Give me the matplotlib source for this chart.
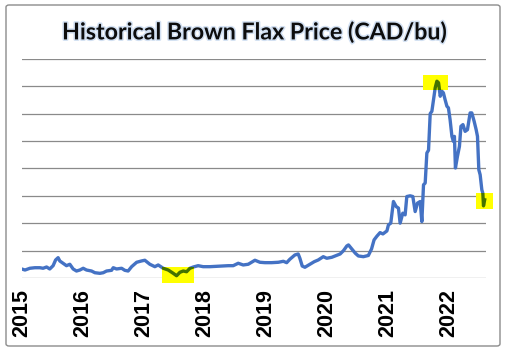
import matplotlib
matplotlib.use("Agg")
import matplotlib.pyplot as plt
import matplotlib.patheffects as pe
from matplotlib.patches import Rectangle, FancyBboxPatch
import pandas as pd

# Brown flax price, CAD/bu
dates = [
    "2015-01-01", "2015-01-21", "2015-02-19", "2015-03-21", "2015-04-20", "2015-05-09",
    "2015-05-30", "2015-06-18", "2015-07-08", "2015-07-23", "2015-08-07", "2015-08-17",
    "2015-09-06", "2015-09-26", "2015-10-16", "2015-11-05", "2015-11-25", "2015-12-15",
    "2016-01-04", "2016-01-24", "2016-02-23", "2016-03-14", "2016-04-13", "2016-05-03",
    "2016-05-23", "2016-06-22", "2016-07-02", "2016-07-22", "2016-08-21", "2016-09-09",
    "2016-09-29", "2016-10-20", "2016-11-19", "2016-12-18", "2017-01-07", "2017-02-06",
    "2017-03-08", "2017-03-28", "2017-04-27", "2017-05-27", "2017-06-26", "2017-07-16",
    "2017-08-05", "2017-08-25", "2017-09-14", "2017-10-04", "2017-10-24", "2017-11-22",
    "2017-12-22", "2018-02-01", "2018-03-13", "2018-04-21", "2018-05-21", "2018-06-20",
    "2018-07-20", "2018-08-19", "2018-09-18", "2018-10-28", "2018-11-27", "2018-12-27",
    "2019-02-05", "2019-03-17", "2019-04-16", "2019-05-06", "2019-05-25", "2019-06-24",
    "2019-07-14", "2019-07-24", "2019-08-07", "2019-08-23", "2019-09-22", "2019-10-18",
    "2019-11-11", "2019-12-11", "2020-01-01", "2020-01-31", "2020-02-20", "2020-03-21",
    "2020-04-10", "2020-04-30", "2020-05-10", "2020-05-26", "2020-06-20", "2020-07-08",
    "2020-08-07", "2020-09-06", "2020-09-25", "2020-10-10", "2020-10-27", "2020-11-15",
    "2020-12-02", "2020-12-26", "2021-01-04", "2021-01-18", "2021-02-03", "2021-02-19",
    "2021-03-05", "2021-03-15", "2021-03-31", "2021-04-14", "2021-04-24", "2021-05-14",
    "2021-05-30", "2021-06-13", "2021-06-27", "2021-07-13", "2021-07-23", "2021-08-02",
    "2021-08-12", "2021-08-22", "2021-09-01", "2021-09-11", "2021-09-21", "2021-10-01",
    "2021-10-11", "2021-10-21", "2021-10-31", "2021-11-10", "2021-11-20", "2021-11-29",
    "2021-12-09", "2021-12-20", "2021-12-29", "2022-01-08", "2022-01-19", "2022-01-28",
    "2022-02-03", "2022-02-09", "2022-02-21", "2022-03-05", "2022-03-14", "2022-03-26",
    "2022-04-08", "2022-04-22", "2022-05-08", "2022-05-18", "2022-06-01", "2022-06-13",
    "2022-06-21", "2022-06-29", "2022-07-07", "2022-07-17", "2022-07-23", "2022-07-27",
    "2022-08-03",
]
prices = [
    11.70, 11.51, 11.83, 11.93, 11.93, 11.83,
    12.06, 11.70, 12.30, 13.34, 13.76, 13.16,
    12.74, 12.30, 12.56, 11.70, 11.33, 11.51,
    11.83, 11.51, 11.33, 11.02, 10.91, 11.02,
    11.33, 11.46, 11.93, 11.70, 11.83, 11.46,
    11.33, 12.12, 12.92, 13.16, 13.29, 12.56,
    12.12, 12.43, 11.83, 11.51, 10.91, 10.47,
    11.10, 11.33, 11.20, 11.83, 12.06, 12.30,
    12.12, 12.12, 12.19, 12.24, 12.30, 12.30,
    12.74, 12.43, 12.56, 13.29, 12.92, 12.85,
    12.85, 12.92, 13.10, 12.85, 13.47, 14.25,
    14.43, 13.65, 12.24, 12.01, 12.56, 13.03,
    13.34, 13.94, 13.65, 13.83, 14.07, 14.43,
    15.04, 15.89, 16.08, 15.48, 14.56, 14.07,
    13.94, 14.16, 15.35, 16.99, 17.67, 18.32,
    18.08, 18.63, 19.73, 20.04, 23.98, 23.07,
    22.78, 20.04, 21.86, 21.55, 24.89, 25.02,
    24.89, 22.15, 23.69, 23.98, 20.33, 27.03,
    27.34, 32.81, 33.32, 39.98, 40.40, 42.54,
    44.68, 45.88, 45.59, 43.14, 44.05, 43.76,
    42.54, 41.32, 41.03, 38.89, 35.84, 34.93,
    35.84, 30.08, 32.19, 34.02, 37.67, 37.98,
    36.75, 37.06, 40.11, 40.11, 38.58, 37.06,
    35.84, 29.76, 28.85, 26.11, 25.51, 23.19,
    24.29,
]
years = list(range(2015, 2023))

# highlighted spots: (start, end, low price, high price)
hl_start = ["2017-04-19", "2021-07-30", "2022-06-13"]
hl_end = ["2017-10-28", "2021-12-27", "2022-09-22"]
hl_low = [9.1, 44.2, 22.65]
hl_high = [12.1, 47.1, 25.6]

blue = "#4472C4"
green = "#447200"

dt = pd.to_datetime(dates)

fig = plt.figure(figsize=(5.08, 3.55), dpi=100)
ax = fig.add_axes([0.0427, 0.216, 0.914, 0.619])

ax.plot(dt, prices, color=blue, linewidth=2.4, zorder=3, solid_joinstyle="round")

for s, e, lo, hi in zip(hl_start, hl_end, hl_low, hl_high):
    x0 = matplotlib.dates.date2num(pd.Timestamp(s))
    x1 = matplotlib.dates.date2num(pd.Timestamp(e))
    rect = Rectangle((x0, lo), x1 - x0, hi - lo, facecolor="#FFFF00",
                     edgecolor="none", zorder=4, clip_on=False)
    ax.add_patch(rect)
    seg, = ax.plot(dt, prices, color=green, linewidth=2.4, zorder=5,
                   solid_joinstyle="round")
    seg.set_clip_path(rect)

ax.set_ylim(10, 50)
ax.set_yticks(range(10, 51, 5))
ax.set_xlim(pd.Timestamp("2015-01-01"), pd.Timestamp("2022-08-11"))
ax.set_xticks(pd.to_datetime([f"{y}-01-01" for y in years]))
ax.set_xticklabels([str(y) for y in years], rotation=90, fontsize=15.5,
                   family="Liberation Sans", fontweight="bold")
ax.tick_params(axis="x", length=0, pad=8)
ax.tick_params(axis="y", length=0, labelleft=False)
ax.grid(axis="y", color="#8a8a8a", linewidth=0.9)
ax.set_axisbelow(True)
for sp in ax.spines.values():
    sp.set_visible(False)

fig.text(0.5, 0.889, "Historical Brown Flax Price (CAD/bu)", ha="center", va="baseline",
         fontsize=16.7, fontweight="bold", family="Lato", color="#0d0d0d",
         path_effects=[pe.withStroke(linewidth=2.2, foreground="#d2e0f2")])

border = FancyBboxPatch((6 / 508, 9 / 355), 494 / 508, 341 / 355,
                        boxstyle="round,pad=0,rounding_size=0.006",
                        transform=fig.transFigure, facecolor="none",
                        edgecolor="#8c8c8c", linewidth=1.0)
fig.patches.append(border)

fig.savefig("out.png", dpi=100)
